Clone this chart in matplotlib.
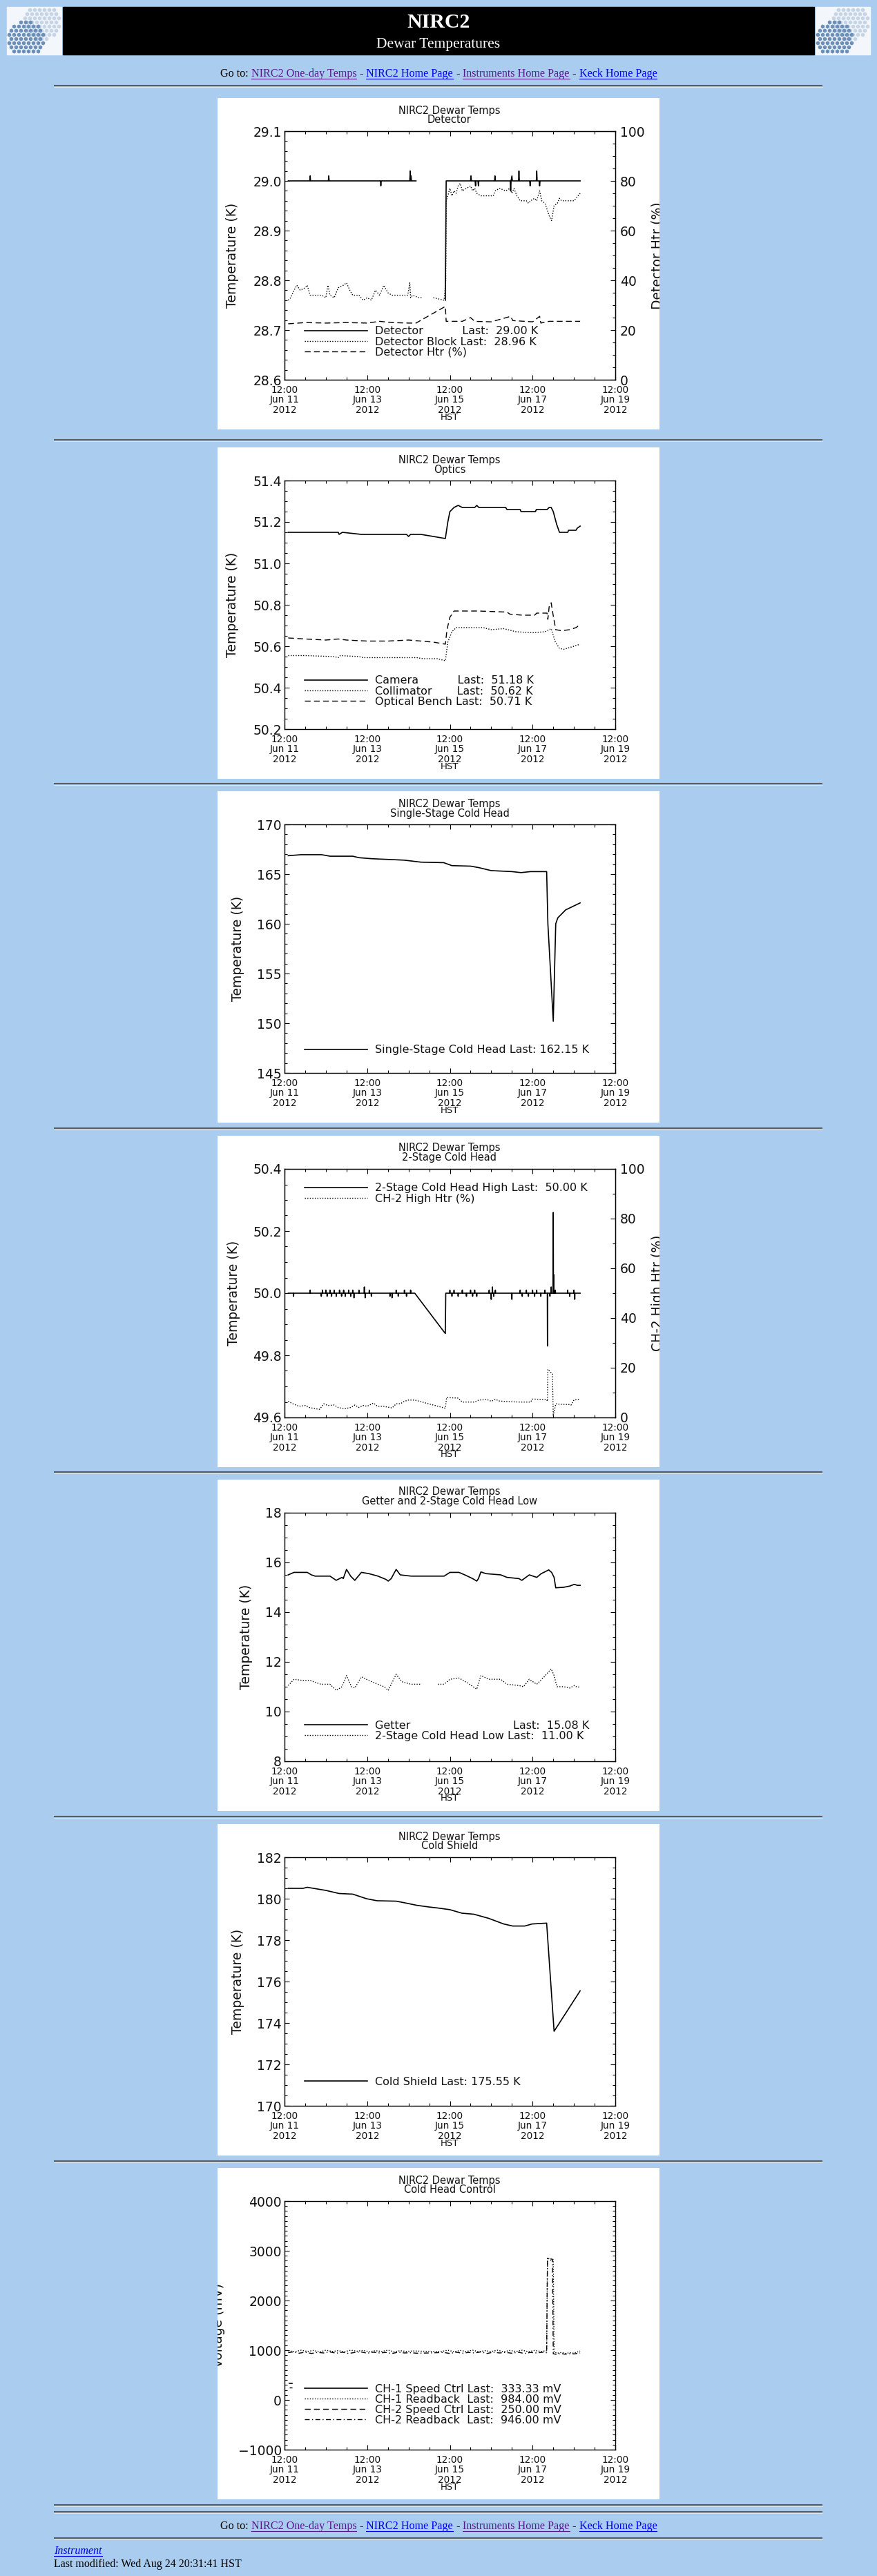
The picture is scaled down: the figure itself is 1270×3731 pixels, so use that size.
import numpy as np
import matplotlib
matplotlib.use('Agg')
import matplotlib.pyplot as plt
import matplotlib.dates as mdates
from matplotlib.ticker import MultipleLocator, FixedLocator, FormatStrFormatter
from matplotlib.lines import Line2D
from matplotlib.patches import Rectangle

nan = np.nan

# ---- data: days after 2012-06-11 12:00 HST ----
# Detector panel
det_days = [0.09, 0.61, 0.62, 0.63, 1.06, 1.07, 1.08, 2.32, 2.33, 2.34,
            3.03, 3.04, 3.05, 3.06, 3.07, 3.18, 3.50, 3.89, 3.91,
            4.50, 4.51, 4.52, 4.61, 4.62, 4.63, 4.68, 4.69, 4.70,
            5.08, 5.09, 5.10, 5.46, 5.47, 5.48, 5.50, 5.51,
            5.66, 5.67, 5.68, 5.93, 5.94, 5.95, 6.09, 6.10, 6.11,
            6.16, 6.17, 6.18, 7.15]
det_temp = [29.00, 29.00, 29.01, 29.00, 29.00, 29.01, 29.00, 29.00, 28.99, 29.00,
            29.00, 29.02, 29.00, 29.01, 29.00, 29.00, nan, 28.76, 29.00,
            29.00, 29.01, 29.00, 29.00, 28.99, 29.00, 29.00, 28.99, 29.00,
            29.00, 29.01, 29.00, 29.00, 28.98, 29.00, 29.01, 29.00,
            29.00, 29.02, 29.00, 29.00, 28.99, 29.00, 29.00, 29.02, 29.00,
            29.00, 28.99, 29.00, 29.00]
blk_days = [0.09, 0.15, 0.23, 0.30, 0.38, 0.50, 0.55, 0.62, 0.90, 1.00,
            1.05, 1.10, 1.20, 1.30, 1.42, 1.50, 1.58, 1.65, 1.80, 1.90,
            2.00, 2.10, 2.20, 2.30, 2.40, 2.50, 2.60, 2.80, 2.98, 3.03,
            3.05, 3.10, 3.25, 3.33, 3.45, 3.60, 3.86, 3.90, 3.91, 3.95,
            4.00, 4.05, 4.10, 4.15, 4.20, 4.25, 4.30, 4.40, 4.50, 4.55,
            4.60, 4.65, 4.75, 4.90, 5.05, 5.10, 5.20, 5.35, 5.45, 5.50,
            5.55, 5.62, 5.70, 5.85, 5.90, 5.95, 6.05, 6.10, 6.17, 6.22,
            6.30, 6.40, 6.46, 6.52, 6.60, 6.65, 6.70, 6.80, 7.00, 7.15]
blk_temp = [28.760, 28.765, 28.780, 28.790, 28.780, 28.785, 28.790, 28.770, 28.770, 28.765,
            28.790, 28.770, 28.765, 28.785, 28.790, 28.795, 28.780, 28.770, 28.770, 28.760,
            28.765, 28.760, 28.780, 28.770, 28.790, 28.775, 28.770, 28.770, 28.770, 28.795,
            28.765, 28.770, 28.765, 28.765, nan, 28.765, 28.760, 28.800, 28.960, 28.970,
            28.985, 28.970, 28.980, 28.975, 28.990, 28.995, 28.980, 28.985, 28.990, 28.980,
            28.985, 28.975, 28.970, 28.970, 28.970, 28.980, 28.985, 28.980, 28.985, 28.975,
            28.985, 28.970, 28.960, 28.960, 28.955, 28.960, 28.965, 28.960, 28.980, 28.960,
            28.955, 28.930, 28.920, 28.950, 28.955, 28.965, 28.960, 28.960, 28.960, 28.975]
htr_days = [0.09, 0.50, 1.00, 1.50, 2.00, 2.30, 2.60, 3.00, 3.18, 3.89, 3.91,
            4.30, 4.50, 4.60, 5.00, 5.47, 5.52, 6.00, 6.17, 6.20, 6.40, 7.15]
htr_pct = [22.5, 23.0, 22.8, 23.0, 22.8, 23.5, 23.0, 22.8, 22.8, 29.5, 23.5,
           23.5, 25.0, 23.5, 23.3, 25.5, 23.8, 23.3, 25.5, 22.8, 23.5, 23.5]

# Optics panel
cam_days = [0.09, 1.00, 1.30, 1.32, 1.40, 1.86, 2.50, 2.95, 3.00, 3.05,
            3.30, 3.60, 3.89, 3.95, 4.00, 4.10, 4.20, 4.30, 4.60, 4.65,
            4.70, 5.35, 5.38, 5.70, 5.72, 6.07, 6.09, 6.35, 6.40, 6.45,
            6.50, 6.58, 6.65, 6.85, 6.87, 7.05, 7.08, 7.15]
cam_temp = [51.15, 51.15, 51.15, 51.14, 51.15, 51.14, 51.14, 51.14, 51.13, 51.14,
            51.14, 51.13, 51.12, 51.20, 51.25, 51.27, 51.28, 51.27, 51.27, 51.28,
            51.27, 51.27, 51.26, 51.26, 51.25, 51.25, 51.26, 51.26, 51.27, 51.27,
            51.25, 51.19, 51.15, 51.15, 51.16, 51.16, 51.17, 51.18]
coll_days = [0.09, 0.50, 1.20, 1.30, 1.35, 1.80, 1.90, 2.50, 3.20, 3.35,
             3.70, 3.89, 3.95, 4.05, 4.15, 4.80, 5.00, 5.30, 5.60, 6.00,
             6.30, 6.45, 6.55, 6.65, 6.75, 7.00, 7.15]
coll_temp = [50.555, 50.555, 50.550, 50.545, 50.555, 50.550, 50.545, 50.545, 50.545, 50.540,
             50.540, 50.530, 50.620, 50.670, 50.690, 50.690, 50.680, 50.685, 50.670, 50.665,
             50.670, 50.685, 50.620, 50.590, 50.585, 50.600, 50.610]
bench_days = [0.09, 0.50, 1.00, 1.30, 1.50, 2.00, 2.50, 3.00, 3.30, 3.60,
              3.89, 3.93, 4.00, 4.10, 4.50, 4.70, 5.38, 5.45, 5.75, 6.05,
              6.10, 6.35, 6.37, 6.40, 6.45, 6.48, 6.56, 6.70, 6.90, 7.05, 7.15]
bench_temp = [50.640, 50.635, 50.630, 50.635, 50.630, 50.625, 50.625, 50.630, 50.625, 50.620,
              50.610, 50.680, 50.740, 50.770, 50.770, 50.770, 50.765, 50.755, 50.750, 50.750,
              50.760, 50.760, 50.730, 50.790, 50.810, 50.770, 50.680, 50.675, 50.680, 50.690, 50.705]

# Single-stage cold head
ss_days = [0.09, 0.40, 0.90, 1.10, 1.65, 1.80, 2.10, 2.90, 3.00, 3.30,
           3.85, 4.05, 4.50, 4.70, 5.00, 5.50, 5.72, 5.95, 6.34, 6.37,
           6.50, 6.56, 6.61, 6.80, 7.00, 7.15]
ss_temp = [166.85, 166.95, 166.95, 166.80, 166.80, 166.65, 166.55, 166.40, 166.35, 166.20,
           166.15, 165.85, 165.80, 165.65, 165.35, 165.25, 165.15, 165.25, 165.25, 160.00,
           150.20, 160.00, 160.60, 161.40, 161.80, 162.10]

# 2-stage cold head: flat 50.00 K with short glitches, a ramp down before Jun 15
ch2_base = 50.00
ch2_pre_spike_days = [0.22, 0.62, 0.89, 0.92, 1.00, 1.03, 1.10, 1.14, 1.20, 1.25,
                      1.33, 1.38, 1.43, 1.47, 1.55, 1.60, 1.65, 1.68, 1.80, 1.93,
                      1.95, 2.05, 2.10, 2.55, 2.60, 2.70, 2.75, 2.90, 2.95, 3.05]
ch2_pre_spike_temp = [49.99, 50.01, 49.99, 50.01, 50.01, 49.99, 50.01, 49.99, 50.01, 49.99,
                      50.01, 49.99, 50.01, 49.99, 50.01, 49.99, 50.01, 49.985, 50.01, 50.02,
                      49.985, 50.01, 49.99, 49.99, 49.985, 50.01, 49.99, 50.01, 49.99, 50.01]
ch2_ramp_days = [3.15, 3.89]
ch2_ramp_temp = [50.00, 49.87]
ch2_post_spike_days = [4.00, 4.05, 4.10, 4.20, 4.30, 4.40, 4.50, 4.55, 4.60, 4.65,
                       4.95, 5.00, 5.03, 5.06, 5.10, 5.50, 5.70, 5.75, 5.85, 5.90,
                       6.00, 6.05, 6.10, 6.20, 6.30, 6.36, 6.42, 6.45, 6.50, 6.51,
                       6.55, 6.85, 6.90, 7.00, 7.02]
ch2_post_spike_temp = [50.01, 49.99, 50.01, 49.99, 50.01, 49.99, 50.01, 49.99, 50.01, 49.99,
                       50.01, 49.98, 50.02, 49.99, 50.01, 49.98, 50.01, 49.99, 50.01, 49.99,
                       50.01, 49.99, 50.01, 49.99, 50.01, 49.83, 49.99, 50.02, 50.26, 50.06,
                       50.01, 50.01, 49.99, 50.01, 49.98]
ch2h_days = [0.09, 0.20, 0.35, 0.50, 0.60, 0.75, 0.85, 0.95, 1.05, 1.20,
             1.30, 1.45, 1.60, 1.70, 1.80, 1.90, 2.00, 2.15, 2.25, 2.40,
             2.60, 2.70, 2.80, 2.90, 3.00, 3.15, 3.89, 3.92, 4.20, 4.30,
             4.60, 4.70, 4.90, 5.00, 5.10, 5.20, 5.50, 5.70, 5.95, 6.00,
             6.34, 6.36, 6.37, 6.42, 6.46, 6.48, 6.50, 6.56, 6.65, 6.90,
             6.93, 7.00, 7.15]
ch2h_pct = [6.5, 5.5, 4.5, 4.8, 4.0, 3.5, 3.3, 5.5, 4.8, 5.0,
            4.0, 3.5, 4.0, 5.0, 4.0, 4.8, 4.5, 5.8, 4.5, 4.5,
            3.8, 5.5, 5.5, 6.5, 7.0, 7.0, 3.7, 8.0, 7.8, 6.2,
            6.2, 7.0, 7.2, 6.5, 7.3, 6.6, 6.3, 6.2, 6.2, 7.4,
            7.2, 6.5, 19.4, 18.5, 17.8, 17.5, 0.6, 5.5, 5.3, 5.2,
            5.0, 7.0, 7.4]

# Getter and 2-stage low
get_days = [0.09, 0.23, 0.45, 0.55, 0.65, 0.74, 1.00, 1.10, 1.25, 1.39,
            1.42, 1.50, 1.60, 1.70, 1.86, 2.04, 2.26, 2.45, 2.51, 2.58,
            2.70, 2.80, 3.06, 3.86, 4.00, 4.22, 4.36, 4.55, 4.65, 4.69,
            4.75, 4.87, 5.23, 5.38, 5.67, 5.74, 5.92, 6.10, 6.21, 6.39,
            6.46, 6.52, 6.56, 6.75, 6.90, 7.01, 7.08, 7.15]
get_temp = [15.50, 15.60, 15.60, 15.60, 15.50, 15.45, 15.45, 15.45, 15.28, 15.40,
            15.35, 15.72, 15.45, 15.28, 15.60, 15.55, 15.45, 15.32, 15.25, 15.35,
            15.72, 15.50, 15.45, 15.45, 15.60, 15.60, 15.50, 15.35, 15.25, 15.35,
            15.62, 15.55, 15.50, 15.40, 15.35, 15.28, 15.50, 15.40, 15.55, 15.70,
            15.60, 15.40, 14.98, 15.00, 15.05, 15.12, 15.08, 15.08]
low_days = [0.09, 0.23, 0.45, 0.62, 0.88, 1.10, 1.25, 1.39, 1.50, 1.62,
            1.70, 1.86, 2.04, 2.26, 2.41, 2.51, 2.70, 2.84, 3.06, 3.31,
            3.50, 3.71, 3.86, 4.00, 4.22, 4.43, 4.65, 4.75, 4.94, 5.23,
            5.38, 5.67, 5.78, 5.92, 6.10, 6.28, 6.45, 6.52, 6.59, 6.75,
            6.90, 7.01, 7.08, 7.15]
low_temp = [11.05, 11.30, 11.25, 11.25, 11.10, 11.10, 10.85, 11.00, 11.45, 11.00,
            10.95, 11.40, 11.25, 11.10, 11.00, 10.85, 11.50, 11.20, 11.10, 11.10,
            nan, 11.10, 11.10, 11.30, 11.35, 11.15, 10.90, 11.45, 11.30, 11.30,
            11.10, 11.05, 11.00, 11.30, 11.10, 11.40, 11.72, 11.45, 11.00, 11.00,
            10.95, 11.05, 10.98, 11.00]

# Cold shield
cs_days = [0.09, 0.45, 0.55, 1.00, 1.32, 1.65, 1.98, 2.24, 2.70, 2.91,
           3.20, 3.49, 3.71, 4.00, 4.29, 4.58, 4.94, 5.30, 5.52, 5.81,
           5.99, 6.34, 6.52, 7.15]
cs_temp = [180.50, 180.50, 180.55, 180.40, 180.25, 180.22, 180.00, 179.90, 179.88, 179.80,
           179.68, 179.60, 179.55, 179.47, 179.30, 179.25, 179.05, 178.78, 178.68, 178.68,
           178.78, 178.82, 173.60, 175.55]

# Cold head control (mV)
spd1_days = [0.12, 0.18]
spd1_mv = [333.33, 333.33]
spd2_days = [0.12, 0.18]
spd2_mv = [250.0, 250.0]
rb1_days = [0.09, 0.25, 0.40, 0.55, 0.70, 0.85, 1.00, 1.15, 1.30, 1.45,
            1.60, 1.75, 1.90, 2.05, 2.20, 2.35, 2.50, 2.65, 2.80, 2.95,
            3.10, 3.30, 3.80, 3.95, 4.10, 4.25, 4.40, 4.55, 4.70, 4.85,
            5.00, 5.15, 5.30, 5.45, 5.60, 5.75, 5.90, 6.05, 6.20, 6.34,
            6.36, 6.46, 6.50, 6.52, 6.60, 6.70, 6.80, 6.90, 7.00, 7.15]
rb1_mv = [990, 970, 1000, 975, 995, 965, 1000, 975, 990, 970,
          1000, 980, 995, 970, 990, 975, 1000, 970, 990, 975,
          985, 980, 975, 1000, 970, 995, 975, 1000, 970, 990,
          975, 1000, 970, 995, 975, 1000, 970, 995, 975, 990,
          2860, 2800, 2820, 960, 940, 955, 935, 950, 940, 984]
rb2_days = [0.09, 0.20, 0.35, 0.50, 0.65, 0.80, 0.95, 1.10, 1.25, 1.40,
            1.55, 1.70, 1.85, 2.00, 2.15, 2.30, 2.45, 2.60, 2.75, 2.90,
            3.05, 3.20, 3.50, 3.85, 4.00, 4.15, 4.30, 4.45, 4.60, 4.75,
            4.90, 5.05, 5.20, 5.35, 5.50, 5.65, 5.80, 5.95, 6.10, 6.25,
            6.34, 6.36, 6.48, 6.50, 6.58, 6.68, 6.78, 6.88, 7.00, 7.15]
rb2_mv = [950, 965, 940, 960, 935, 955, 945, 965, 940, 960,
          935, 955, 965, 940, 960, 945, 955, 935, 960, 945,
          950, 940, 945, 955, 935, 960, 940, 955, 945, 965,
          935, 960, 945, 955, 940, 960, 935, 955, 945, 960,
          950, 2850, 2830, 930, 915, 935, 920, 930, 925, 946]

goto_items = ['NIRC2 One-day Temps', 'NIRC2 Home Page', 'Instruments Home Page', 'Keck Home Page']
goto_colors = ['#551a8b', '#0000ee', '#551a8b', '#0000ee']


def spiky(base, d0, d1, sdays, svals, w=0.004):
    # flat trace at `base` with short glitches at the listed times
    days, vals = [d0], [base]
    for d, v in zip(sdays, svals):
        days += [d - w, d, d + w]
        vals += [base, v, base]
    days.append(d1)
    vals.append(base)
    return days, vals


pre_d, pre_v = spiky(ch2_base, 0.09, ch2_ramp_days[0], ch2_pre_spike_days, ch2_pre_spike_temp)
post_d, post_v = spiky(ch2_base, 3.90, 7.15, ch2_post_spike_days, ch2_post_spike_temp)
ch2_days = pre_d + ch2_ramp_days[1:] + post_d
ch2_temp = pre_v + ch2_ramp_temp[1:] + post_v

# ---- layout ----
W, H = 1270, 3731
PAGE_BG = '#aaccee'
SERIF = 'Liberation Serif'
T0 = np.datetime64('2012-06-11T12:00')

plt.rcParams['font.family'] = 'DejaVu Sans'

STYLE = {
    'solid': dict(ls='-', lw=1.2),
    'dotted': dict(ls=(0, (1, 1.6)), lw=1.0),
    'dashed': dict(ls=(0, (6, 3.5)), lw=1.0),
    'dashdot': dict(ls=(0, (5, 2.5, 1, 2.5)), lw=1.0),
}


def when(days):
    secs = np.round(np.asarray(days, dtype=float) * 86400).astype(np.int64)
    return T0 + secs.astype('timedelta64[s]')


def box(x, y, w, h):
    return [x / W, 1 - (y + h) / H, w / W, h / H]


fig = plt.figure(figsize=(W / 100, H / 100), dpi=100)
fig.patch.set_facecolor(PAGE_BG)

page = fig.add_axes([0, 0, 1, 1])
page.set_xlim(0, W)
page.set_ylim(H, 0)
page.axis('off')

# header bar + logos
page.add_patch(Rectangle((91, 10), 1088, 69, color='black'))
page.text(635, 33, 'NIRC2', color='white', fontsize=21.5, fontweight='bold',
          family=SERIF, ha='center', va='center')
page.text(635, 64, 'Dewar Temperatures', color='white', fontsize=15.5,
          family=SERIF, ha='center', va='center')


def logo(x0):
    page.add_patch(Rectangle((x0, 10), 79, 69, color='#f3f6fa'))
    for cx, cy, col in ((x0 + 50, 32, '#c6d5e6'), (x0 + 27, 56, '#6b8fb8')):
        xs, ys = [], []
        for i in range(-5, 6):
            for j in range(-6, 7):
                px = cx + i * 7.0 + (j % 2) * 3.5
                py = cy + j * 6.1
                if (px - cx) ** 2 + (py - cy) ** 2 < 26 ** 2 and x0 + 2 < px < x0 + 77 and 12 < py < 77:
                    xs.append(px)
                    ys.append(py)
        page.scatter(xs, ys, s=20, marker='h', color=col, lw=0)


logo(10)
logo(1181)

for y in [124, 637, 1135, 1634, 2132, 2631, 3130, 3628, 3638, 3676]:
    page.plot([78, 1191], [y, y], color='#5c5c5c', lw=1.5, solid_capstyle='butt')
    page.plot([78, 1191], [y + 1.6, y + 1.6], color='#e4edf7', lw=0.6, solid_capstyle='butt')

renderer = fig.canvas.get_renderer()


def goto_line(ybase, fs=11.6):
    parts = [('Go to:', 'black', False)]
    for k, (s, c) in enumerate(zip(goto_items, goto_colors)):
        if k:
            parts.append(('-', 'black', False))
        parts.append((s, c, True))
    texts = [page.text(0, ybase, s, color=c, fontsize=fs, family=SERIF, va='baseline')
             for s, c, u in parts]
    widths = [t.get_window_extent(renderer).width for t in texts]
    gap = 4.3
    x = 635 - (sum(widths) + gap * (len(parts) - 1)) / 2
    for t, w, (s, c, u) in zip(texts, widths, parts):
        t.set_x(x)
        if u:
            page.plot([x, x + w], [ybase + 2.5] * 2, color=c, lw=0.8)
        x += w + gap


goto_line(111)
goto_line(3663)

t = page.text(78, 3699, 'Instrument', color='#0000ee', fontsize=11.5, style='italic',
              family=SERIF, va='baseline')
wi = t.get_window_extent(renderer).width
page.plot([78, 78 + wi], [3702, 3702], color='#0000ee', lw=0.8)
page.text(78, 3718, 'Last modified: Wed Aug 24 20:31:41 HST', color='black',
          fontsize=11.5, family=SERIF, va='baseline')

# ---- panels ----
panels = [
    dict(top=142, sub='Detector', ylim=(28.6, 29.1), major=0.1, minor=0.02, fmt='%.1f',
         ylab='Temperature (K)', ylab_x=22,
         series=[(det_days, det_temp, 'solid', 'L'), (blk_days, blk_temp, 'dotted', 'L'),
                 (htr_days, htr_pct, 'dashed', 'R')],
         labels=['Detector' + ' ' * 11 + 'Last:  29.00 K', 'Detector Block Last:  28.96 K',
                 'Detector Htr (%)'],
         leg_y=340, right=('Detector Htr (%)', 5)),
    dict(top=648, sub='Optics', ylim=(50.2, 51.4), major=0.2, minor=0.05, fmt='%.1f',
         ylab='Temperature (K)', ylab_x=22,
         series=[(cam_days, cam_temp, 'solid', 'L'), (coll_days, coll_temp, 'dotted', 'L'),
                 (bench_days, bench_temp, 'dashed', 'L')],
         labels=['Camera' + ' ' * 11 + 'Last:  51.18 K', 'Collimator' + ' ' * 7 + 'Last:  50.62 K',
                 'Optical Bench Last:  50.71 K'],
         leg_y=340, right=None),
    dict(top=1146, sub='Single-Stage Cold Head', ylim=(145, 170), major=5, minor=1, fmt='%d',
         ylab='Temperature (K)', ylab_x=29,
         series=[(ss_days, ss_temp, 'solid', 'L')],
         labels=['Single-Stage Cold Head Last: 162.15 K'],
         leg_y=377, right=None),
    dict(top=1645, sub='2-Stage Cold Head', ylim=(49.6, 50.4), major=0.2, minor=0.05, fmt='%.1f',
         ylab='Temperature (K)', ylab_x=23,
         series=[(ch2_days, ch2_temp, 'solid', 'L'), (ch2h_days, ch2h_pct, 'dotted', 'R')],
         labels=['2-Stage Cold Head High Last:  50.00 K', 'CH-2 High Htr (%)'],
         leg_y=78, right=('CH-2 High Htr (%)', 10)),
    dict(top=2143, sub='Getter and 2-Stage Cold Head Low', ylim=(8, 18), major=2, minor=0.5, fmt='%d',
         ylab='Temperature (K)', ylab_x=42,
         series=[(get_days, get_temp, 'solid', 'L'), (low_days, low_temp, 'dotted', 'L')],
         labels=['Getter' + ' ' * 29 + 'Last:  15.08 K', '2-Stage Cold Head Low Last:  11.00 K'],
         leg_y=358, right=None),
    dict(top=2642, sub='Cold Shield', ylim=(170, 182), major=2, minor=0.5, fmt='%d',
         ylab='Temperature (K)', ylab_x=29,
         series=[(cs_days, cs_temp, 'solid', 'L')],
         labels=['Cold Shield Last: 175.55 K'],
         leg_y=375, right=None),
    dict(top=3140, sub='Cold Head Control', ylim=(-1000, 4000), major=1000, minor=100, fmt=None,
         ylab='Voltage (mV)', ylab_x=2,
         series=[(spd1_days, spd1_mv, 'solid', 'L'), (rb1_days, rb1_mv, 'dotted', 'L'),
                 (spd2_days, spd2_mv, 'dashed', 'L'), (rb2_days, rb2_mv, 'dashdot', 'L')],
         labels=['CH-1 Speed Ctrl Last:  333.33 mV', 'CH-1 Readback  Last:  984.00 mV',
                 'CH-2 Speed Ctrl Last:  250.00 mV', 'CH-2 Readback  Last:  946.00 mV'],
         leg_y=322, right=None),
]

major_days = when([0, 2, 4, 6, 8])
TXT = '#111111'

for p in panels:
    top = p['top']
    bg = fig.add_axes(box(315, top, 640, 480))
    bg.set_xlim(0, 640)
    bg.set_ylim(480, 0)
    bg.set_xticks([])
    bg.set_yticks([])
    for s in bg.spines.values():
        s.set_visible(False)
    bg.set_facecolor('white')
    bg.text(336, 18, 'NIRC2 Dewar Temps', fontsize=10.5, color=TXT, ha='center', va='center')
    bg.text(336, 32, p['sub'], fontsize=10.5, color=TXT, ha='center', va='center')
    bg.text(336, 462, 'HST', fontsize=9.5, color=TXT, ha='center', va='center')
    bg.text(p['ylab_x'], 228, p['ylab'], fontsize=13.5, color=TXT, rotation=90,
            ha='center', va='center', clip_on=True)

    ax = fig.add_axes(box(315 + 97, top + 48, 479, 360))
    ax.set_facecolor('none')
    ax2 = ax.twinx() if p['right'] else None
    handles = []
    for days, vals, style, side in p['series']:
        target = ax2 if side == 'R' else ax
        target.plot(when(days), vals, color='black', **STYLE[style])
        handles.append(Line2D([], [], color='black', **STYLE[style]))

    ax.set_xlim(when([0])[0], when([8])[0])
    ax.xaxis.set_major_locator(FixedLocator(mdates.date2num(major_days)))
    ax.xaxis.set_minor_locator(mdates.HourLocator(byhour=[0, 12]))
    ax.xaxis.set_major_formatter(mdates.DateFormatter('%H:%M\n%b %d\n%Y'))
    ax.set_ylim(*p['ylim'])
    ax.yaxis.set_major_locator(MultipleLocator(p['major']))
    ax.yaxis.set_minor_locator(MultipleLocator(p['minor']))
    if p['fmt']:
        ax.yaxis.set_major_formatter(FormatStrFormatter(p['fmt']))
    ax.tick_params(which='both', direction='in', top=True, right=ax2 is None,
                   colors='black', labelcolor=TXT, width=0.8)
    ax.tick_params(which='major', length=5)
    ax.tick_params(which='minor', length=2.6)
    ax.tick_params(axis='x', labelsize=9.8, pad=5.5)
    ax.tick_params(axis='y', labelsize=13.5, pad=3)
    for lab in ax.get_xticklabels():
        lab.set_linespacing(1.05)
    for s in ax.spines.values():
        s.set_linewidth(1.0)

    legend_host = ax
    if ax2 is not None:
        text, mstep = p['right']
        ax2.set_ylim(0, 100)
        ax2.yaxis.set_major_locator(MultipleLocator(20))
        ax2.yaxis.set_minor_locator(MultipleLocator(mstep))
        ax2.yaxis.set_major_formatter(FormatStrFormatter('%d'))
        ax2.tick_params(axis='y', which='both', direction='in', labelsize=13.5, pad=5,
                        labelcolor=TXT, width=0.8)
        ax2.tick_params(axis='y', which='major', length=5)
        ax2.tick_params(axis='y', which='minor', length=2.6)
        ax.tick_params(axis='y', which='both', right=False)
        bg.text(637, 228, text, fontsize=13.5, color=TXT, rotation=90,
                ha='center', va='center', clip_on=True)
        legend_host = ax2

    lx = (315 + 126) / W
    ly = 1 - (top + p['leg_y'] - 9.5) / H
    legend_host.legend(handles, p['labels'], loc='upper left', bbox_to_anchor=(lx, ly),
                       bbox_transform=fig.transFigure, frameon=False, borderpad=0,
                       borderaxespad=0, handlelength=5.7, handletextpad=0.7,
                       labelspacing=0.0, fontsize=11.5, labelcolor=TXT)

fig.savefig('out.png', dpi=100, facecolor=PAGE_BG)
